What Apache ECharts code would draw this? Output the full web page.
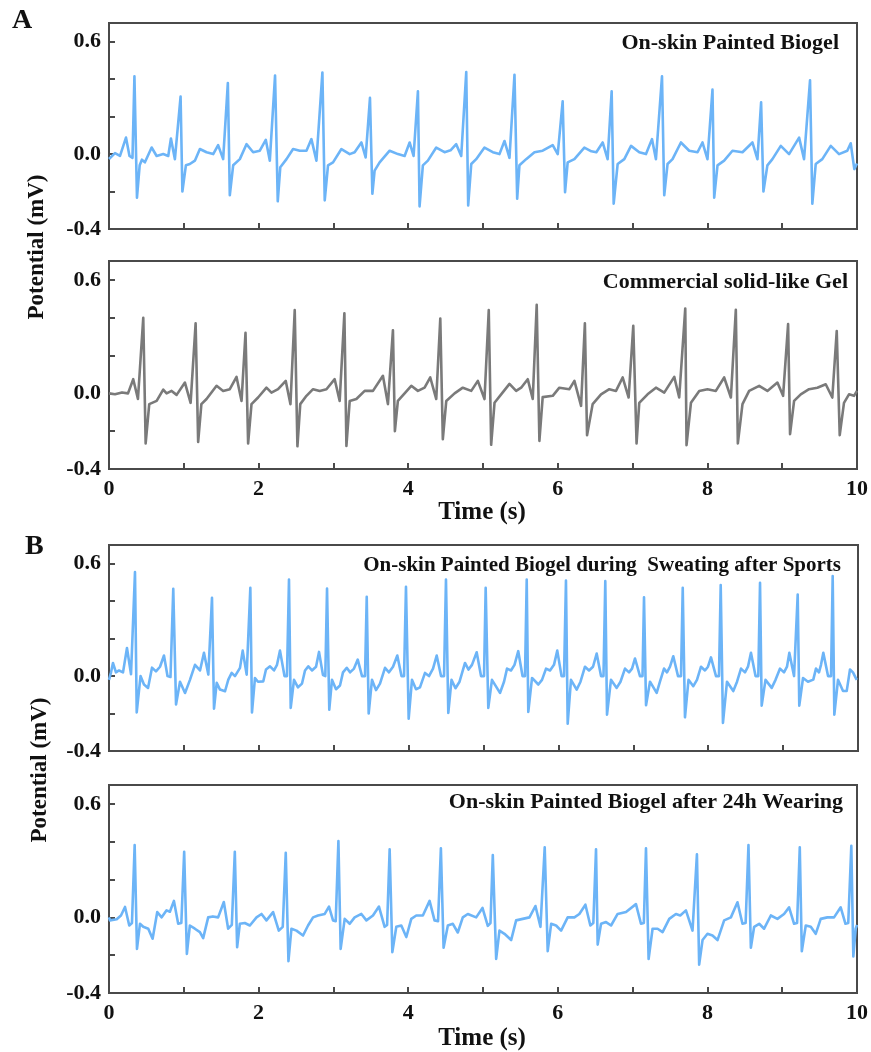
<!DOCTYPE html>
<html>
<head>
<meta charset="utf-8">
<script src="https://cdn.jsdelivr.net/npm/echarts/dist/echarts.min.js"></script>
<style>
html,body{margin:0;padding:0;background:#fff;}
#chart{width:871px;height:1052px;}
</style>
</head>
<body>
<div id="chart"></div>
<script>
// ---- data (time in s, potential in mV) ----
const xTicks = [0, 2, 4, 6, 8, 10];
const yTickLabels = [0.6, 0.0, -0.4];
const panelTitles = ["On-skin Painted Biogel", "Commercial solid-like Gel", "On-skin Painted Biogel during  Sweating after Sports", "On-skin Painted Biogel after 24h Wearing"];

const ecgA1 = [[0.00,-0.026],[0.08,0.005],[0.147,-0.01],[0.227,0.088],[0.274,-0.01],[0.314,-0.02],[0.340,0.415],[0.374,-0.233],[0.41,-0.06],[0.44,-0.03],[0.48,-0.044],[0.570,0.035],[0.637,-0.01],[0.725,0.0],[0.792,-0.01],[0.828,0.083],[0.881,-0.027],[0.957,0.307],[0.981,-0.20],[1.028,-0.06],[1.081,-0.053],[1.148,-0.035],[1.215,0.027],[1.304,0.01],[1.393,0.0],[1.459,0.048],[1.526,-0.027],[1.589,0.38],[1.615,-0.22],[1.660,-0.06],[1.749,-0.027],[1.838,0.053],[1.927,0.01],[2.016,0.018],[2.096,0.076],[2.150,-0.035],[2.220,0.42],[2.256,-0.252],[2.29,-0.07],[2.373,-0.027],[2.461,0.027],[2.550,0.018],[2.640,0.018],[2.706,0.08],[2.773,-0.035],[2.853,0.436],[2.884,-0.247],[2.928,-0.06],[2.995,-0.044],[3.107,0.027],[3.218,0.0],[3.284,0.01],[3.374,0.062],[3.431,-0.018],[3.489,0.30],[3.521,-0.212],[3.551,-0.088],[3.618,-0.044],[3.752,0.018],[3.863,0.0],[3.952,-0.01],[4.019,0.062],[4.072,-0.01],[4.130,0.335],[4.152,-0.279],[4.196,-0.06],[4.263,-0.035],[4.375,0.035],[4.486,0.01],[4.566,0.02],[4.642,0.053],[4.709,-0.01],[4.776,0.438],[4.802,-0.274],[4.843,-0.053],[4.909,-0.027],[5.020,0.035],[5.131,0.01],[5.220,0.0],[5.287,0.07],[5.354,-0.02],[5.421,0.424],[5.457,-0.238],[5.487,-0.06],[5.577,-0.027],[5.688,0.01],[5.798,0.018],[5.932,0.048],[5.999,0.0],[6.065,0.282],[6.097,-0.203],[6.132,-0.044],[6.222,-0.027],[6.355,0.035],[6.449,0.015],[6.515,0.01],[6.600,0.062],[6.666,-0.027],[6.720,0.335],[6.747,-0.265],[6.800,-0.053],[6.889,-0.027],[6.979,0.044],[7.089,0.01],[7.179,0.0],[7.259,0.08],[7.312,-0.027],[7.393,0.415],[7.423,-0.22],[7.467,-0.053],[7.534,-0.027],[7.646,0.062],[7.757,0.018],[7.868,0.01],[7.934,0.062],[8.001,-0.027],[8.068,0.344],[8.091,-0.233],[8.135,-0.06],[8.224,-0.035],[8.335,0.018],[8.469,0.01],[8.602,0.062],[8.669,-0.027],[8.718,0.277],[8.749,-0.20],[8.802,-0.06],[8.869,-0.027],[8.981,0.044],[9.092,0.0],[9.226,0.088],[9.292,-0.027],[9.372,0.394],[9.403,-0.265],[9.448,-0.053],[9.536,-0.027],[9.649,0.044],[9.760,0.0],[9.870,0.018],[9.916,0.058],[9.964,-0.08],[10.0,-0.05]];

const ecgA2 = [[0,0.0],[0.080,-0.005],[0.174,0.005],[0.254,0.0],[0.324,0.075],[0.387,-0.03],[0.458,0.40],[0.490,-0.265],[0.538,-0.057],[0.637,-0.04],[0.725,0.02],[0.770,0.0],[0.837,0.013],[0.904,-0.008],[1.015,0.057],[1.091,-0.05],[1.158,0.37],[1.192,-0.257],[1.235,-0.057],[1.304,-0.03],[1.438,0.04],[1.526,0.013],[1.615,0.022],[1.705,0.087],[1.772,-0.04],[1.825,0.32],[1.860,-0.265],[1.905,-0.057],[1.993,-0.022],[2.105,0.03],[2.172,0.004],[2.260,0.022],[2.363,0.066],[2.426,-0.057],[2.483,0.44],[2.519,-0.28],[2.557,-0.057],[2.640,-0.013],[2.728,0.022],[2.817,0.013],[2.907,0.022],[3.017,0.075],[3.084,-0.04],[3.147,0.424],[3.174,-0.278],[3.218,-0.04],[3.307,-0.03],[3.418,0.013],[3.529,0.013],[3.662,0.093],[3.729,-0.057],[3.796,0.334],[3.822,-0.20],[3.862,-0.04],[3.952,0.0],[4.041,0.04],[4.130,0.013],[4.219,0.03],[4.295,0.084],[4.375,-0.03],[4.429,0.396],[4.463,-0.242],[4.509,-0.04],[4.620,0.0],[4.730,0.03],[4.843,0.013],[4.931,0.066],[5.020,-0.03],[5.077,0.44],[5.109,-0.272],[5.154,-0.05],[5.264,0.005],[5.354,0.05],[5.443,0.013],[5.510,0.03],[5.598,0.075],[5.665,-0.03],[5.718,0.468],[5.754,-0.251],[5.798,-0.02],[5.932,-0.013],[6.021,0.03],[6.155,0.022],[6.222,0.066],[6.311,-0.066],[6.362,0.37],[6.391,-0.221],[6.466,-0.057],[6.578,-0.005],[6.689,0.022],[6.778,0.013],[6.867,0.084],[6.947,-0.022],[7.009,0.357],[7.053,-0.265],[7.089,-0.05],[7.200,-0.005],[7.312,0.03],[7.423,0.004],[7.557,0.087],[7.623,-0.022],[7.704,0.449],[7.721,-0.274],[7.780,-0.05],[7.891,0.013],[8.001,0.022],[8.113,0.013],[8.224,0.084],[8.314,-0.022],[8.380,0.442],[8.407,-0.265],[8.469,-0.057],[8.558,0.013],[8.692,0.04],[8.802,0.013],[8.936,0.057],[9.012,-0.013],[9.079,0.366],[9.105,-0.216],[9.159,-0.04],[9.248,-0.005],[9.359,0.022],[9.470,0.03],[9.582,0.048],[9.670,-0.022],[9.729,0.33],[9.769,-0.221],[9.826,-0.05],[9.893,-0.005],[9.960,-0.013],[10.0,0.013]];

const ecgB1 = [[0,-0.02],[0.027,0.02],[0.053,0.07],[0.093,0.02],[0.134,0.03],[0.187,0.02],[0.240,0.15],[0.294,0.01],[0.320,0.0],[0.347,0.555],[0.370,-0.194],[0.421,0.0],[0.467,-0.045],[0.521,-0.063],[0.574,0.045],[0.627,0.025],[0.681,0.05],[0.734,0.11],[0.781,0.0],[0.821,-0.005],[0.858,0.466],[0.895,-0.152],[0.948,-0.03],[1.015,-0.09],[1.081,-0.02],[1.148,0.06],[1.215,0.03],[1.268,0.124],[1.326,0.008],[1.348,0.0],[1.375,0.418],[1.402,-0.174],[1.438,-0.036],[1.482,-0.072],[1.549,-0.081],[1.593,-0.019],[1.638,0.017],[1.682,0.0],[1.749,0.044],[1.785,0.136],[1.838,0.008],[1.862,0.0],[1.887,0.472],[1.909,-0.194],[1.949,-0.01],[1.989,-0.03],[2.060,-0.028],[2.096,0.035],[2.150,0.052],[2.203,0.03],[2.243,0.06],[2.283,0.136],[2.343,0.0],[2.376,0.0],[2.403,0.516],[2.426,-0.17],[2.470,-0.02],[2.523,-0.06],[2.577,-0.04],[2.617,0.03],[2.661,0.052],[2.710,0.03],[2.764,0.05],[2.804,0.129],[2.857,0.005],[2.888,0.0],[2.911,0.468],[2.941,-0.179],[2.977,-0.02],[3.031,-0.07],[3.084,-0.05],[3.124,0.02],[3.174,0.044],[3.218,0.02],[3.271,0.04],[3.321,0.088],[3.378,0.0],[3.418,0.0],[3.441,0.424],[3.467,-0.20],[3.511,-0.02],[3.565,-0.075],[3.618,-0.04],[3.685,0.044],[3.738,0.02],[3.792,0.05],[3.849,0.11],[3.905,0.0],[3.939,0.0],[3.965,0.477],[4.001,-0.227],[4.045,-0.02],[4.099,-0.07],[4.152,-0.06],[4.219,0.017],[4.272,0.0],[4.326,0.04],[4.375,0.11],[4.433,0.0],[4.473,0.0],[4.499,0.516],[4.530,-0.197],[4.573,-0.02],[4.626,-0.065],[4.680,-0.03],[4.753,0.07],[4.800,0.035],[4.846,0.06],[4.909,0.127],[4.967,0.0],[5.007,0.0],[5.029,0.472],[5.064,-0.17],[5.113,-0.02],[5.220,-0.09],[5.274,-0.03],[5.314,0.04],[5.367,0.03],[5.414,0.06],[5.464,0.133],[5.521,0.0],[5.554,0.0],[5.577,0.516],[5.598,-0.191],[5.648,-0.01],[5.732,-0.045],[5.781,-0.02],[5.835,0.04],[5.888,0.03],[5.941,0.06],[5.985,0.136],[6.042,0.0],[6.075,0.0],[6.101,0.51],[6.124,-0.254],[6.168,-0.02],[6.244,-0.072],[6.295,-0.03],[6.355,0.05],[6.409,0.03],[6.462,0.05],[6.511,0.12],[6.569,0.0],[6.602,0.0],[6.626,0.507],[6.649,-0.206],[6.702,-0.02],[6.778,-0.063],[6.829,-0.03],[6.889,0.04],[6.943,0.02],[6.983,0.04],[7.023,0.094],[7.089,0.0],[7.123,0.0],[7.143,0.421],[7.170,-0.156],[7.223,-0.03],[7.312,-0.09],[7.356,-0.03],[7.410,0.04],[7.450,0.02],[7.490,0.05],[7.534,0.106],[7.597,0.0],[7.637,0.0],[7.660,0.472],[7.690,-0.22],[7.737,-0.02],[7.801,-0.054],[7.850,-0.02],[7.904,0.05],[7.957,0.03],[7.997,0.05],[8.037,0.10],[8.104,0.0],[8.144,0.0],[8.167,0.486],[8.197,-0.25],[8.251,-0.03],[8.335,-0.08],[8.385,-0.03],[8.438,0.04],[8.491,0.02],[8.531,0.05],[8.571,0.124],[8.632,0.0],[8.669,0.0],[8.692,0.498],[8.714,-0.158],[8.765,-0.02],[8.848,-0.063],[8.899,-0.02],[8.959,0.04],[9.012,0.02],[9.052,0.05],[9.083,0.124],[9.146,0.0],[9.172,0.0],[9.195,0.436],[9.216,-0.158],[9.266,-0.01],[9.332,-0.03],[9.403,-0.019],[9.439,0.04],[9.479,0.02],[9.506,0.06],[9.537,0.124],[9.600,0.0],[9.640,0.0],[9.662,0.534],[9.684,-0.206],[9.733,-0.02],[9.800,-0.08],[9.849,-0.08],[9.893,0.035],[9.933,0.02],[9.983,-0.02]];

const ecgB2 = [[0,0.0],[0.013,-0.016],[0.103,-0.01],[0.160,0.01],[0.214,0.055],[0.271,-0.043],[0.307,-0.03],[0.343,0.383],[0.374,-0.167],[0.414,-0.034],[0.458,-0.05],[0.525,-0.06],[0.583,-0.113],[0.645,0.028],[0.704,0.0],[0.770,0.037],[0.814,0.03],[0.868,0.087],[0.925,-0.034],[0.967,-0.03],[1.005,0.347],[1.041,-0.193],[1.081,-0.043],[1.148,-0.06],[1.215,-0.078],[1.259,-0.11],[1.326,0.0],[1.389,0.005],[1.459,0.0],[1.535,0.081],[1.593,-0.06],[1.642,-0.04],[1.682,0.347],[1.713,-0.158],[1.749,-0.034],[1.816,-0.03],[1.883,-0.043],[1.972,0.0],[2.039,0.018],[2.105,-0.016],[2.194,0.028],[2.270,-0.07],[2.323,-0.05],[2.363,0.342],[2.399,-0.232],[2.439,-0.06],[2.506,-0.07],[2.594,-0.096],[2.661,-0.043],[2.728,0.0],[2.794,0.01],[2.884,0.018],[2.941,0.057],[2.995,-0.016],[3.031,-0.02],[3.067,0.404],[3.097,-0.167],[3.151,-0.008],[3.218,-0.034],[3.284,0.0],[3.374,0.018],[3.441,-0.016],[3.529,0.01],[3.609,0.057],[3.685,-0.05],[3.718,-0.04],[3.752,0.36],[3.788,-0.184],[3.841,-0.05],[3.908,-0.043],[3.975,-0.104],[4.041,-0.008],[4.108,0.01],[4.196,0.01],[4.286,0.087],[4.352,-0.016],[4.399,-0.02],[4.437,0.365],[4.473,-0.161],[4.530,-0.043],[4.597,-0.034],[4.663,-0.08],[4.730,0.0],[4.797,0.018],[4.909,0.0],[4.993,0.05],[5.064,-0.045],[5.100,-0.03],[5.131,0.33],[5.176,-0.22],[5.220,-0.07],[5.287,-0.087],[5.376,-0.12],[5.443,-0.016],[5.531,-0.008],[5.621,0.0],[5.701,0.06],[5.768,-0.05],[5.794,-0.04],[5.825,0.371],[5.865,-0.179],[5.911,-0.034],[5.977,-0.043],[6.044,-0.07],[6.132,0.0],[6.222,0.0],[6.288,0.018],[6.369,0.067],[6.435,-0.043],[6.475,-0.03],[6.511,0.36],[6.533,-0.144],[6.578,-0.034],[6.645,-0.025],[6.712,-0.043],[6.800,0.018],[6.912,0.028],[7.045,0.07],[7.112,-0.034],[7.150,-0.03],[7.179,0.365],[7.214,-0.22],[7.267,-0.06],[7.334,-0.06],[7.401,-0.078],[7.490,-0.008],[7.579,0.018],[7.637,0.01],[7.713,0.037],[7.801,-0.07],[7.860,0.334],[7.890,-0.25],[7.935,-0.12],[8.001,-0.087],[8.068,-0.096],[8.135,-0.12],[8.224,-0.016],[8.314,0.0],[8.402,0.08],[8.469,-0.034],[8.511,-0.03],[8.549,0.383],[8.581,-0.161],[8.625,-0.05],[8.692,-0.034],[8.758,-0.06],[8.848,0.01],[8.936,-0.008],[9.025,0.018],[9.092,0.053],[9.159,-0.034],[9.199,-0.03],[9.235,0.371],[9.262,-0.179],[9.315,-0.043],[9.382,-0.05],[9.448,-0.087],[9.515,-0.008],[9.604,0.0],[9.693,0.0],[9.782,0.053],[9.846,-0.034],[9.883,-0.03],[9.924,0.378],[9.951,-0.207],[9.983,-0.06],[10.0,-0.04]];

const traces = [ecgA1, ecgA2, ecgB1, ecgB2];
const traceColors = ['#6cb4f7', '#7a7a7a', '#6cb4f7', '#6cb4f7'];

// ---- layout ----
const FONT = '"Liberation Serif", "Times New Roman", serif';
const AX = '#4a4a4a';
const grids = [
  {left:109, top:23,  width:748, height:206},
  {left:109, top:261, width:749, height:208},
  {left:109, top:545, width:749, height:206},
  {left:109, top:785, width:749, height:208}
];
const showXLabels = [false, true, false, true];

function near(v, arr){ return arr.some(a => Math.abs(a - v) < 1e-6); }

const option = {
  animation: false,
  backgroundColor: '#fff',
  grid: grids.map(g => Object.assign({show:true, borderColor:AX, borderWidth:2, containLabel:false}, g)),
  xAxis: grids.map((g, i) => ({
    type:'value', gridIndex:i, min:0, max:10, interval:1,
    axisLine:{show:true, onZero:false, lineStyle:{color:AX, width:2}},
    axisTick:{show:true, inside:true, length:6, lineStyle:{color:AX, width:2}},
    splitLine:{show:false},
    axisLabel:{show:showXLabels[i], margin:9, color:'#111', fontFamily:FONT, fontWeight:'bold', fontSize:22,
      formatter: v => near(v, xTicks) ? String(Math.round(v)) : ''}
  })),
  yAxis: grids.map((g, i) => ({
    type:'value', gridIndex:i, min:-0.4, max:0.7, interval:0.2,
    axisLine:{show:true, onZero:false, lineStyle:{color:AX, width:2}},
    axisTick:{show:true, inside:true, length:6, lineStyle:{color:AX, width:2}},
    splitLine:{show:false},
    axisLabel:{show:true, margin:8, color:'#111', fontFamily:FONT, fontWeight:'bold', fontSize:22,
      formatter: v => near(v, yTickLabels) ? v.toFixed(1) : ''}
  })),
  series: traces.map((d, i) => ({
    type:'line', xAxisIndex:i, yAxisIndex:i, data:d, showSymbol:false, symbol:'none',
    lineStyle:{color:traceColors[i], width:2.6, join:'round'}, itemStyle:{color:traceColors[i]}, silent:true, clip:true
  })),
  graphic: [
    {type:'text', left:12, top:7, style:{text:'A', font:'bold 28px ' + FONT, fill:'#111'}},
    {type:'text', left:25, top:533, style:{text:'B', font:'bold 28px ' + FONT, fill:'#111'}},
    {type:'text', x:37, y:247, rotation:Math.PI/2, style:{text:'Potential (mV)', font:'bold 23px ' + FONT, fill:'#111', align:'center', verticalAlign:'middle'}},
    {type:'text', x:40, y:770, rotation:Math.PI/2, style:{text:'Potential (mV)', font:'bold 23px ' + FONT, fill:'#111', align:'center', verticalAlign:'middle'}},
    {type:'text', x:482, y:513, style:{text:'Time (s)', font:'bold 25px ' + FONT, fill:'#111', align:'center', verticalAlign:'middle'}},
    {type:'text', x:482, y:1039, style:{text:'Time (s)', font:'bold 25px ' + FONT, fill:'#111', align:'center', verticalAlign:'middle'}},
    {type:'text', x:839, y:43, style:{text:panelTitles[0], font:'bold 22px ' + FONT, fill:'#111', align:'right', verticalAlign:'middle'}},
    {type:'text', x:848, y:282, style:{text:panelTitles[1], font:'bold 22px ' + FONT, fill:'#111', align:'right', verticalAlign:'middle'}},
    {type:'text', x:841, y:566, style:{text:panelTitles[2], font:'bold 21px ' + FONT, fill:'#111', align:'right', verticalAlign:'middle'}},
    {type:'text', x:843, y:802, style:{text:panelTitles[3], font:'bold 22px ' + FONT, fill:'#111', align:'right', verticalAlign:'middle'}}
  ]
};

const chart = echarts.init(document.getElementById('chart'), null, {renderer:'canvas'});
chart.setOption(option);
</script>
</body>
</html>
